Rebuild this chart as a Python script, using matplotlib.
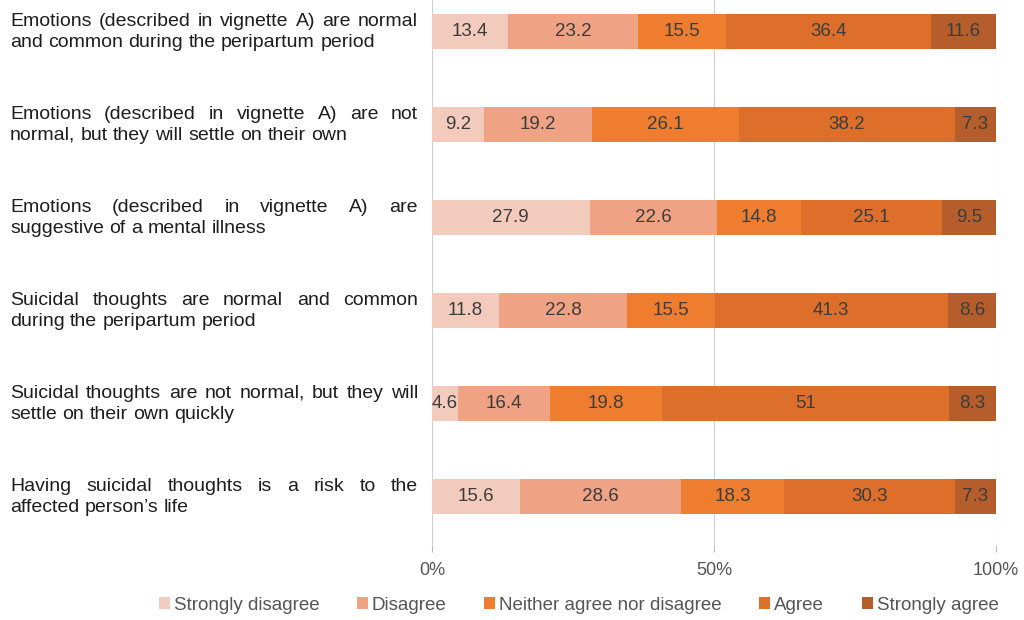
import numpy as np
import matplotlib.pyplot as plt
from matplotlib.transforms import blended_transform_factory

plt.rcParams['font.family'] = ['Liberation Sans', 'DejaVu Sans']

statements = [
    "Emotions (described in vignette A) are normal\nand common during the peripartum period",
    "Emotions (described in vignette A) are not\nnormal, but they will settle on their own",
    "Emotions (described in vignette A) are\nsuggestive of a mental illness",
    "Suicidal thoughts are normal and common\nduring the peripartum period",
    "Suicidal thoughts are not normal, but they will\nsettle on their own quickly",
    "Having suicidal thoughts is a risk to the\naffected person\u2019s life",
]
categories = ["Strongly disagree", "Disagree", "Neither agree nor disagree",
              "Agree", "Strongly agree"]
strongly_disagree = [13.4, 9.2, 27.9, 11.8, 4.6, 15.6]
disagree = [23.2, 19.2, 22.6, 22.8, 16.4, 28.6]
neither = [15.5, 26.1, 14.8, 15.5, 19.8, 18.3]
agree = [36.4, 38.2, 25.1, 41.3, 51, 30.3]
strongly_agree = [11.6, 7.3, 9.5, 8.6, 8.3, 7.3]
labels_txt = [
    ["13.4", "23.2", "15.5", "36.4", "11.6"],
    ["9.2", "19.2", "26.1", "38.2", "7.3"],
    ["27.9", "22.6", "14.8", "25.1", "9.5"],
    ["11.8", "22.8", "15.5", "41.3", "8.6"],
    ["4.6", "16.4", "19.8", "51", "8.3"],
    ["15.6", "28.6", "18.3", "30.3", "7.3"],
]
colors = ["#F3CBBC", "#EFA284", "#EE7D30", "#DD6F2B", "#B65E2B"]

series = np.array([strongly_disagree, disagree, neither, agree, strongly_agree])
pct = series / series.sum(axis=0) * 100

W, H = 1024, 620
fig = plt.figure(figsize=(W / 100, H / 100), dpi=100)
ax = fig.add_axes([0.4219, 0.121, 0.5508, 0.879])
y = np.arange(len(statements))

left = np.zeros(len(statements))
for i, cat in enumerate(categories):
    ax.barh(y, pct[i], left=left, height=0.38, color=colors[i], label=cat,
            zorder=3)
    for j in range(len(statements)):
        ax.text(left[j] + pct[i][j] / 2, y[j], labels_txt[j][i],
                ha="center", va="center", fontsize=13.5, color="#3c3c3c",
                zorder=4)
    left += pct[i]

ax.set_xlim(0, 100)
ax.set_ylim(5.52, -0.34)
ax.set_xticks([0, 50, 100])
ax.set_xticklabels(["0%", "50%", "100%"], fontsize=13, color="#555555")
ax.set_yticks([])
for s in ax.spines.values():
    s.set_visible(False)
ax.grid(axis="x", color="#d0d0d0", linewidth=0.8, zorder=0)
ax.tick_params(axis="x", length=5, color="#bbbbbb", pad=7)

# justified statement labels on the left
fs = 14
trans = blended_transform_factory(fig.transFigure, ax.transData)
renderer = fig.canvas.get_renderer()
x0, x1 = 10 / W, 418 / W
line_step = 0.225
sp = fig.text(0, 0, "a b", fontsize=fs)
sp2 = fig.text(0, 0, "ab", fontsize=fs)
space_w = (sp.get_window_extent(renderer).width
           - sp2.get_window_extent(renderer).width) / W
sp.remove()
sp2.remove()
for j, s in enumerate(statements):
    lines = s.split("\n")
    for k, line in enumerate(lines):
        yy = y[j] + (k - (len(lines) - 1) / 2) * line_step
        words = line.split(" ")
        objs = [fig.text(0, 0, w_, transform=trans, fontsize=fs,
                         color="#1e1e1e", ha="left", va="center")
                for w_ in words]
        widths = [o.get_window_extent(renderer).width / W for o in objs]
        if k < len(lines) - 1 and len(words) > 1:
            gap = (x1 - x0 - sum(widths)) / (len(words) - 1)
        else:
            gap = space_w
        xx = x0
        for o, wd in zip(objs, widths):
            o.set_position((xx, yy))
            xx += wd + gap

fig.legend(loc="center", bbox_to_anchor=(0.565, 0.024), ncol=5,
           frameon=False, fontsize=13.5, handlelength=0.6, handleheight=0.6,
           handletextpad=0.2, columnspacing=2.0, labelcolor="#555555")

fig.savefig("out.png", dpi=100)
